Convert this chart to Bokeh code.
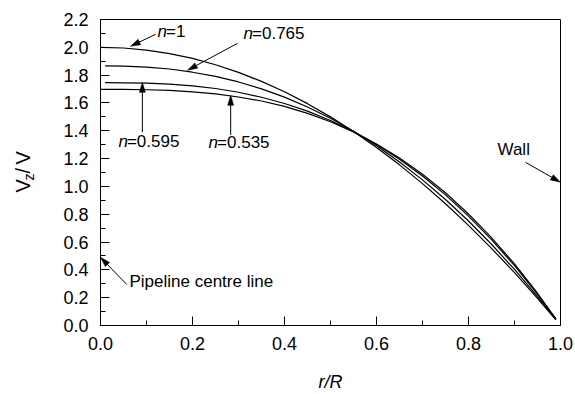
import math
from bokeh.plotting import figure
from bokeh.layouts import row
from bokeh.models import Range1d, FixedTicker, PrintfTickFormatter, Label
from bokeh.core.properties import value
from bokeh.embed import file_html
from bokeh.resources import INLINE

# ---- data ----
r_vals = [0.0, 0.05, 0.10, 0.15, 0.20, 0.25, 0.30, 0.35, 0.40, 0.45, 0.50,
          0.55, 0.60, 0.65, 0.70, 0.75, 0.80, 0.85, 0.90, 0.95, 0.99]
v_n1 = [2.000, 1.995, 1.980, 1.955, 1.920, 1.875, 1.820, 1.755, 1.680, 1.595,
        1.500, 1.395, 1.280, 1.155, 1.020, 0.875, 0.720, 0.555, 0.380, 0.195, 0.040]
v_n0765 = [1.867, 1.865, 1.858, 1.844, 1.821, 1.791, 1.751, 1.701, 1.642, 1.571,
           1.490, 1.397, 1.293, 1.176, 1.047, 0.906, 0.751, 0.584, 0.403, 0.208, 0.043]
v_n0595 = [1.746, 1.745, 1.742, 1.735, 1.723, 1.704, 1.677, 1.641, 1.596, 1.541,
           1.474, 1.394, 1.302, 1.196, 1.075, 0.939, 0.786, 0.617, 0.430, 0.224, 0.046]
v_n0535 = [1.697, 1.697, 1.695, 1.690, 1.680, 1.665, 1.643, 1.614, 1.575, 1.525,
           1.465, 1.392, 1.305, 1.204, 1.087, 0.954, 0.802, 0.632, 0.443, 0.232, 0.048]
series_start = [0.0, 0.01, 0.01, 0.0]

x_ticks = [0.0, 0.2, 0.4, 0.6, 0.8, 1.0]
x_minor = [0.1, 0.3, 0.5, 0.7, 0.9]
y_ticks = [0.0, 0.2, 0.4, 0.6, 0.8, 1.0, 1.2, 1.4, 1.6, 1.8, 2.0, 2.2]
y_minor = [0.1, 0.3, 0.5, 0.7, 0.9, 1.1, 1.3, 1.5, 1.7, 1.9, 2.1]

n_labels = ["=1", "=0.765", "=0.595", "=0.535"]
other_labels = ["Pipeline centre line", "Wall"]
y_title_parts = ["V", "z", "/", "V"]
x_title = "r/R"

FONT = "Liberation Sans"
LW = 40                       # width of the strip holding the y title
W, H = 575 - LW, 394
BL, BR, BT, BB = 100 - LW, 15, 19, 69
X0, X1, Y0, Y1 = 0.0, 1.0, 0.0, 2.2
PXX = (W - BL - BR) / (X1 - X0)   # pixels per x unit
PXY = (H - BT - BB) / (Y1 - Y0)   # pixels per y unit
FRAME_BOTTOM = H - BB

# ---- main plot ----
p = figure(width=W, height=H, output_backend="svg", toolbar_location=None,
           x_range=Range1d(X0, X1), y_range=Range1d(Y0, Y1),
           min_border_left=BL, min_border_right=BR, min_border_top=BT,
           min_border_bottom=BB)
p.grid.visible = False
p.outline_line_color = "black"
p.outline_line_width = 1
p.background_fill_color = "white"
p.border_fill_color = "white"

for ax in (p.xaxis[0], p.yaxis[0]):
    ax.major_tick_in = 9
    ax.major_tick_out = 0
    ax.minor_tick_in = 5
    ax.minor_tick_out = 0
    ax.major_label_text_font = FONT
    ax.major_label_text_font_size = "18px"
    ax.major_label_text_color = "black"
    ax.axis_line_color = "black"
    ax.major_tick_line_color = "black"
    ax.minor_tick_line_color = "black"
    ax.major_label_standoff = 12
    ax.formatter = PrintfTickFormatter(format="%.1f")
p.xaxis[0].major_label_standoff = 11

p.xaxis[0].ticker = FixedTicker(ticks=x_ticks, minor_ticks=x_minor)
p.yaxis[0].ticker = FixedTicker(ticks=y_ticks, minor_ticks=y_minor)
p.xaxis[0].axis_label = x_title
p.xaxis[0].axis_label_text_font = FONT
p.xaxis[0].axis_label_text_font_style = "italic"
p.xaxis[0].axis_label_text_font_size = "18px"
p.xaxis[0].axis_label_text_color = "black"
p.xaxis[0].axis_label_standoff = 19

# curves
for start, ys in zip(series_start, [v_n1, v_n0765, v_n0595, v_n0535]):
    xs = list(r_vals)
    xs[0] = start
    p.line(xs, ys, line_color="black", line_width=1.2)

# n= labels
n_pos = [(0.124, 2.043), (0.311, 2.034), (0.039, 1.252), (0.235, 1.245)]
for (lx, ly), txt in zip(n_pos, n_labels):
    p.add_layout(Label(x=lx, y=ly, text="n", text_font=FONT, text_font_size="17px",
                       text_font_style="italic", text_color="black"))
    p.add_layout(Label(x=lx, y=ly, x_offset=8.5, text=txt, text_font=FONT,
                       text_font_size="17px", text_color="black"))

o_pos = [(0.063, 0.25), (0.863, 1.20)]
for (lx, ly), txt in zip(o_pos, other_labels):
    p.add_layout(Label(x=lx, y=ly, text=txt, text_font=FONT, text_font_size="17px",
                       text_color="black"))

# arrows (tail -> head), narrow filled heads
arrows = [((0.120, 2.094), (0.065, 2.007)),
          ((0.298, 2.029), (0.189, 1.835)),
          ((0.091, 1.39), (0.091, 1.748)),
          ((0.283, 1.37), (0.283, 1.655)),
          ((0.057, 0.295), (0.0, 0.49)),
          ((0.924, 1.173), (1.0, 1.03))]
HL, HW = 10.0, 3.0
hx, hy = [], []
for (x0, y0), (x1, y1) in arrows:
    dx, dy = (x1 - x0) * PXX, (y1 - y0) * PXY
    L = math.hypot(dx, dy)
    ux, uy = dx / L, dy / L
    bx, by = -ux * HL, -uy * HL          # base centre offset from tip (px)
    px_, py_ = -uy * HW, ux * HW         # perpendicular half-width (px)
    hx.append([x1, x1 + (bx + px_) / PXX, x1 + (bx - px_) / PXX])
    hy.append([y1, y1 + (by + py_) / PXY, y1 + (by - py_) / PXY])
    p.segment(x0=x0, y0=y0, x1=x1 + bx * 0.6 / PXX, y1=y1 + by * 0.6 / PXY,
              line_color="black", line_width=1)
p.patches(hx, hy, fill_color="black", line_color="black", line_width=0.5)

# ---- strip with the rotated y title (its frame is aligned with the main frame) ----
lab = figure(width=LW, height=H, output_backend="svg", toolbar_location=None,
             x_range=Range1d(0, LW), y_range=p.y_range,
             min_border_left=0, min_border_right=0, min_border_top=BT,
             min_border_bottom=BB)
lab.axis.visible = False
lab.grid.visible = False
lab.outline_line_color = None
lab.background_fill_color = "white"
lab.border_fill_color = "white"
ang = math.pi / 2
# (baseline x in px, start y in px from the top of the page, font size)
part_pos = [(22, 192, "20px"), (28, 180, "14px"), (22, 173, "20px"), (22, 164, "20px")]
for (bx, sy, fs), t in zip(part_pos, y_title_parts):
    lab.text(x=[bx], y=[(FRAME_BOTTOM - sy) / PXY], text=[t], angle=ang,
             text_font=value(FONT), text_font_size=fs, text_color="black",
             text_align="left", text_baseline="alphabetic")

layout = row(lab, p, spacing=0)
open("out.html", "w").write(file_html(layout, INLINE))
